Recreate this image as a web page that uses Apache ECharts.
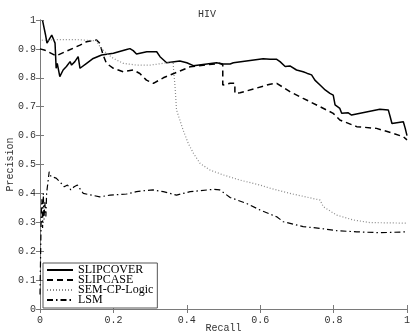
<!DOCTYPE html>
<html><head><meta charset="utf-8">
<script src="https://cdn.jsdelivr.net/npm/echarts@6/dist/echarts.min.js"></script>
<style>html,body{margin:0;padding:0;background:#fff}#c{width:414px;height:336px}</style>
</head><body><div id="c"></div>
<script>
const seriesNames = ['SLIPCOVER','SLIPCASE','SEM-CP-Logic','LSM'];
const xTicks = [0,0.2,0.4,0.6,0.8,1];
const yTicks = [0,0.1,0.2,0.3,0.4,0.5,0.6,0.7,0.8,0.9,1];

const slipcoverX = [0.007,0.015,0.019,0.023,0.032,0.036,0.041,0.044,0.047,0.054,0.063,0.072,0.082,0.086,0.095,0.104,0.109,0.127,0.145,0.168,0.200,0.236,0.245,0.254,0.263,0.291,0.318,0.327,0.345,0.381,0.400,0.418,0.481,0.499,0.518,0.527,0.608,0.627,0.645,0.654,0.668,0.681,0.699,0.717,0.727,0.740,0.749,0.763,0.777,0.790,0.799,0.804,0.817,0.822,0.840,0.849,0.926,0.949,0.954,0.959,0.990,0.995,1.000];
const slipcoverY = [0.998,0.949,0.920,0.925,0.948,0.945,0.920,0.833,0.850,0.804,0.827,0.839,0.856,0.844,0.856,0.873,0.833,0.850,0.867,0.879,0.885,0.898,0.901,0.894,0.882,0.890,0.890,0.873,0.852,0.858,0.852,0.842,0.852,0.848,0.848,0.852,0.866,0.864,0.864,0.856,0.839,0.841,0.827,0.821,0.816,0.810,0.792,0.775,0.758,0.746,0.740,0.706,0.694,0.677,0.679,0.671,0.691,0.689,0.666,0.642,0.648,0.626,0.600];

const slipcaseX = [0.000,0.014,0.044,0.109,0.127,0.154,0.163,0.172,0.181,0.200,0.227,0.254,0.272,0.290,0.309,0.336,0.409,0.490,0.498,0.498,0.518,0.531,0.531,0.545,0.627,0.645,0.681,0.717,0.763,0.799,0.817,0.863,0.917,0.962,0.990,1.000];
const slipcaseY = [0.900,0.895,0.876,0.913,0.925,0.931,0.919,0.879,0.850,0.833,0.821,0.827,0.815,0.792,0.781,0.800,0.838,0.850,0.845,0.775,0.781,0.781,0.746,0.748,0.778,0.781,0.752,0.729,0.700,0.677,0.654,0.631,0.625,0.608,0.596,0.585];

const semX = [0.005,0.050,0.100,0.154,0.163,0.181,0.200,0.227,0.263,0.300,0.336,0.345,0.363,0.364,0.368,0.372,0.381,0.390,0.404,0.418,0.436,0.463,0.499,0.545,0.599,0.627,0.681,0.763,0.772,0.808,0.854,0.899,1.000];
const semY = [0.930,0.932,0.932,0.928,0.908,0.885,0.867,0.850,0.844,0.844,0.850,0.852,0.852,0.827,0.769,0.689,0.654,0.619,0.573,0.539,0.504,0.481,0.464,0.446,0.429,0.418,0.400,0.377,0.354,0.325,0.308,0.299,0.297];

const lsmX = [0.000,0.003,0.005,0.007,0.009,0.011,0.013,0.016,0.018,0.025,0.030,0.044,0.057,0.066,0.075,0.084,0.093,0.102,0.111,0.118,0.163,0.191,0.236,0.263,0.281,0.308,0.336,0.372,0.409,0.472,0.490,0.518,0.563,0.599,0.645,0.663,0.717,0.763,0.808,0.863,0.926,1.000];
const lsmY = [0.05,0.30,0.38,0.28,0.40,0.31,0.37,0.32,0.40,0.475,0.458,0.453,0.436,0.423,0.429,0.412,0.423,0.429,0.412,0.400,0.388,0.394,0.398,0.406,0.409,0.412,0.406,0.394,0.406,0.414,0.412,0.386,0.365,0.343,0.319,0.302,0.285,0.279,0.271,0.267,0.264,0.267];

function pairs(xs, ys){ return xs.map((x,i)=>[x, ys[i]]); }

const mono = 'Liberation Mono';
const axisCol = '#7a7a7a';
const fmt = v => String(+v.toFixed(1));

const chart = echarts.init(document.getElementById('c'), null, {renderer:'canvas'});
const baseAxis = {
  type:'value', min:0, max:1,
  axisLine:{show:true, lineStyle:{color:axisCol, width:1}},
  axisTick:{show:true, inside:true, length:4, lineStyle:{color:axisCol}},
  splitLine:{show:false},
};
chart.setOption({
  animation:false,
  backgroundColor:'#fff',
  title:{text:'HIV', left:'center', top:4, textStyle:{fontFamily:mono, fontSize:10, fontWeight:'normal', color:'#333'}},
  grid:{left:40, right:7, top:20, bottom:27, containLabel:false, outerBoundsMode:'none'},
  legend:{
    orient:'vertical', left:43, top:263,
    data:seriesNames,
    itemWidth:26, itemHeight:8, itemGap:-2,
    padding:[1,4,2,3],
    borderColor:'#555', borderWidth:1, backgroundColor:'#fff',
    itemStyle:{opacity:0},
    textStyle:{fontFamily:'Liberation Serif', fontSize:12, color:'#000', lineHeight:10}
  },
  xAxis:[
    Object.assign({}, baseAxis, {position:'bottom', interval:0.2, name:'Recall', nameLocation:'middle', nameGap:14, nameMoveOverlap:false,
      nameTextStyle:{fontFamily:mono, fontSize:10, color:'#333'},
      axisLabel:{fontFamily:mono, fontSize:10, color:'#333', margin:6, formatter:fmt}}),
    Object.assign({}, baseAxis, {position:'top', interval:0.2, axisLabel:{show:false}})
  ],
  yAxis:[
    Object.assign({}, baseAxis, {position:'left', interval:0.1, name:'Precision', nameLocation:'middle', nameGap:25, nameMoveOverlap:false,
      nameTextStyle:{fontFamily:mono, fontSize:10, color:'#333'},
      axisLabel:{fontFamily:mono, fontSize:10, color:'#333', margin:4, formatter:fmt}}),
    Object.assign({}, baseAxis, {position:'right', interval:0.1, axisLabel:{show:false}})
  ],
  series:[
    {name:seriesNames[0], type:'line', data:pairs(slipcoverX, slipcoverY), showSymbol:false, symbol:'none',
     lineStyle:{color:'#000', width:1.5, type:'solid'}, itemStyle:{color:'#000'}},
    {name:seriesNames[1], type:'line', data:pairs(slipcaseX, slipcaseY), showSymbol:false, symbol:'none',
     lineStyle:{color:'#000', width:1.5, type:[6,4]}, itemStyle:{color:'#000'}},
    {name:seriesNames[2], type:'line', data:pairs(semX, semY), showSymbol:false, symbol:'none',
     lineStyle:{color:'#8a8a8a', width:1.2, type:[1,2]}, itemStyle:{color:'#8a8a8a'}},
    {name:seriesNames[3], type:'line', data:pairs(lsmX, lsmY), showSymbol:false, symbol:'none',
     lineStyle:{color:'#000', width:1.2, type:[6,3,1.5,3]}, itemStyle:{color:'#000'}}
  ]
});
</script></body></html>
